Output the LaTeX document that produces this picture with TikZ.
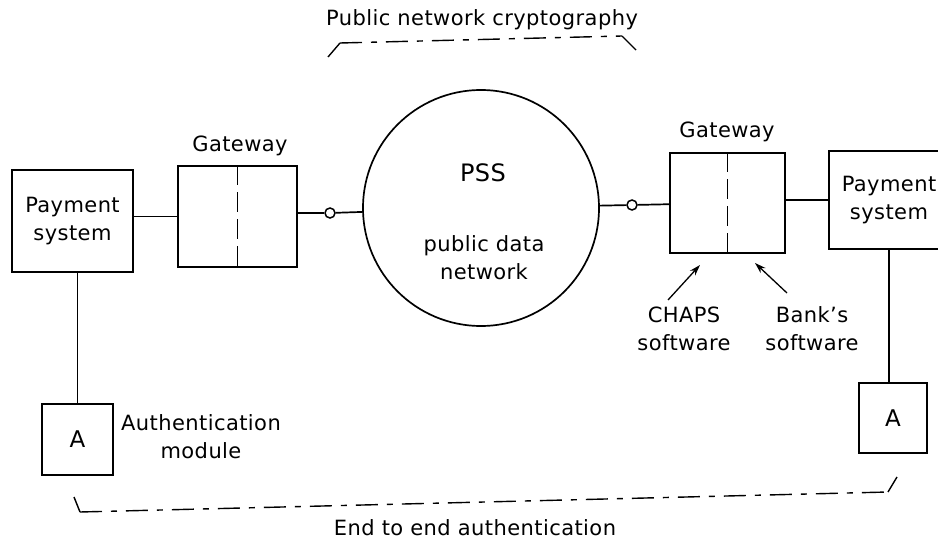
\documentclass[tikz,border=0pt]{standalone}
\usepackage{fontspec}
\setmainfont[LetterSpace=2]{DejaVu Sans}
\usetikzlibrary{arrows.meta}
\begin{document}
\begin{tikzpicture}[x=1pt,y=-1pt, line width=1.7pt,
  txt/.style={font=\fontsize{21}{28}\selectfont, align=center, inner sep=0pt},
  box/.style={draw, rectangle, inner sep=0pt, align=center, font=\fontsize{21}{28}\selectfont},
  port/.style={circle, draw, fill=white, minimum size=10pt, inner sep=0pt, line width=1.5pt},
  dd/.style={dash pattern=on 22pt off 9pt on 6pt off 9pt},
  divider/.style={dash pattern=on 20pt off 7pt, line width=1.4pt},
  ptr/.style={-{Stealth[length=11pt,width=7pt]}, line width=1.3pt}]
\useasboundingbox (0,0) rectangle (938,543);
\clip (0,0) rectangle (938,543);
\fill[white] (0,0) rectangle (938,543);

% boxes
\node[box, minimum width=121pt, minimum height=102pt] (ps1) at (72.5,221) {Payment\\system};
\node[box, minimum width=119pt, minimum height=101pt] (gw1) at (237.5,216.5) {};
\node[draw, circle, minimum size=236pt, inner sep=0pt] (pss) at (481,208) {};
\node[box, minimum width=115pt, minimum height=100pt] (gw2) at (727.5,203) {};
\node[box, minimum width=120pt, minimum height=98pt] (ps2) at (889,200) {Payment\\system};
\node[box, minimum width=71pt, minimum height=71pt, font=\fontsize{23}{28}\selectfont] (a1) at (77.5,439.5) {A};
\node[box, minimum width=68pt, minimum height=70pt, font=\fontsize{23}{28}\selectfont] (a2) at (893,418) {A};

% ports
\node[port] (p1) at (330,213) {};
\node[port] (p2) at (632,205) {};

% labels
\node[txt] (gwl1) at (240,146) {Gateway};
\node[txt] (gwl2) at (727,132) {Gateway};
\node[txt, font=\fontsize{24}{28}\selectfont] (psst) at (483,173) {PSS};
\node[txt] (pdn) at (484,258) {public data\\network};
\node[txt] (auth) at (201,437) {Authentication\\module};
\node[txt] (chaps) at (684,329) {CHAPS\\software};
\node[txt] (bank) at (812,329) {Bank's\\software};
\node[txt] (pnc) at (482,20) {Public network cryptography};
\node[txt] (e2e) at (475,528) {End to end authentication};

% dividers
\draw[divider] (gw1.north) -- (gw1.south);
\draw[divider] (gw2.north) -- (gw2.south);

% connectors
\draw (ps1.east |- gw1) -- (gw1.west);
\draw (gw1.east |- p1) -- (p1);
\draw (p1) -- (pss);
\draw (pss) -- (p2);
\draw (p2) -- (gw2);
\draw (gw2.east |- ps2) -- (ps2.west);
\draw (ps1.south -| a1) -- (a1.north);
\draw (ps2.south) -- (ps2.south |- a2.north);

% pointer arrows
\coordinate (cs) at (668,300);
\coordinate (ce) at (700,265);
\coordinate (bs) at (787,293);
\coordinate (be) at (755,263);
\draw[ptr] (cs) -- (ce);
\draw[ptr] (bs) -- (be);

% brackets
\coordinate (t1) at (328,57);
\coordinate (t2) at (340,43);
\coordinate (t3) at (622,36);
\coordinate (t4) at (636,50);
\draw[line width=1.4pt] (t1) -- (t2);
\draw[line width=1.4pt, dd] (t2) -- (t3);
\draw[line width=1.4pt] (t3) -- (t4);
\coordinate (b1) at (74,497);
\coordinate (b2) at (80,512);
\coordinate (b3) at (888,492);
\coordinate (b4) at (897,477);
\draw[line width=1.4pt] (b1) -- (b2);
\draw[line width=1.4pt, dd] (b2) -- (b3);
\draw[line width=1.4pt] (b3) -- (b4);
\end{tikzpicture}
\end{document}
